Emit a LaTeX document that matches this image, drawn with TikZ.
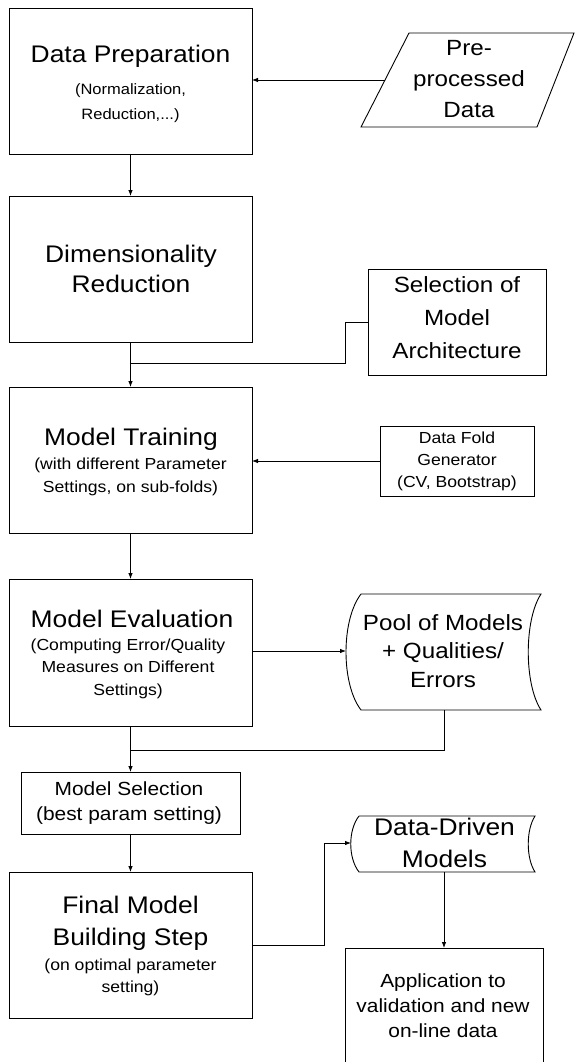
\documentclass[tikz,border=0pt]{standalone}
\usepackage{fontspec}
\setmainfont{Liberation Sans}[FakeStretch=1.1]
\usetikzlibrary{arrows.meta,calc}
\newcommand\txtlines[3]{{\fontsize{#1}{#2}\selectfont\begin{tabular}[t]{@{}c@{}}#3\end{tabular}}}
\tikzset{
  box/.style={draw, line width=0.9pt, rectangle, inner sep=0pt, outer sep=0pt},
  shapeline/.style={draw, line width=0.9pt},
  txt/.style={anchor=base, align=center, inner sep=0pt, outer sep=0pt},
  conn/.style={line width=0.8pt},
  arr/.style={conn, -{Latex[length=6pt,width=4.5pt]}},
}
\begin{document}
\begin{tikzpicture}[x=1pt,y=-1pt]
\useasboundingbox (0,0) rectangle (575,1062);
\fill[white] (0,0) rectangle (575,1062);
\clip (0,0) rectangle (575,1062);

% ---- left column boxes
\node[box, minimum width=243pt, minimum height=146pt] (prep)  at (130.5,81) {};
\node[box, minimum width=243pt, minimum height=146pt] (dim)   at (130.5,269) {};
\node[box, minimum width=243pt, minimum height=146pt] (train) at (130.5,460) {};
\node[box, minimum width=243pt, minimum height=147pt] (eval)  at (130.5,652.5) {};
\node[box, minimum width=219pt, minimum height=62pt]  (msel)  at (130.5,803) {};
\node[box, minimum width=243pt, minimum height=146pt] (final) at (130.5,945) {};

% ---- right column boxes
\node[box, minimum width=178pt, minimum height=106pt] (arch) at (457,322) {};
\node[box, minimum width=154pt, minimum height=70pt]  (fold) at (457,461) {};
\node[box, minimum width=198pt, minimum height=140pt] (app)  at (444,1018) {};

% ---- parallelogram (pre-processed data)
\coordinate (pTL) at (409,33);
\coordinate (pTR) at (574,33);
\coordinate (pBR) at (537,127);
\coordinate (pBL) at (361,127);
\draw[shapeline] (pTL) -- (pTR) -- (pBR) -- (pBL) -- cycle;
\coordinate (paraL) at ($(pBL)!0.5!(pTL)$);

% ---- stored data: pool of models
\draw[shapeline] (361,594) -- (541,594) .. controls (524,620) and (524,684) .. (541,710)
  -- (361,710) .. controls (341,684) and (341,620) .. (361,594);
\coordinate (poolL) at (346,651);
\coordinate (poolB) at (444,710);

% ---- stored data: data-driven models
\draw[shapeline] (359,816) -- (535,816) .. controls (526,830) and (526,858) .. (535,872)
  -- (359,872) .. controls (348,858) and (348,830) .. (359,816);
\coordinate (ddL) at (351,843);
\coordinate (ddB) at (444,872);

% ---- texts
\node[txt] (prepT) at (130.5,63) {\txtlines{24}{30}{Data Preparation}};
\node[txt] (prepS) at (130.5,95) {\txtlines{15}{25}{(Normalization,\\Reduction,...)}};
\node[txt] (dimT) at (131,262) {\txtlines{24}{30}{Dimensionality\\Reduction}};
\node[txt] (archT) at (457,292) {\txtlines{22}{33}{Selection of\\Model\\Architecture}};
\node[txt] (trainT) at (131,445) {\txtlines{24}{30}{Model Training}};
\node[txt] (trainS) at (130.5,469) {\txtlines{16}{23}{(with different Parameter\\Settings, on sub-folds)}};
\node[txt] (foldT) at (457,443) {\txtlines{16}{22}{Data Fold\\Generator\\(CV, Bootstrap)}};
\node[txt] (evalT) at (132,627) {\txtlines{24}{30}{Model Evaluation}};
\node[txt] (evalS) at (128,650) {\txtlines{16}{22.5}{(Computing Error/Quality\\Measures on Different\\Settings)}};
\node[txt] (pool) at (443,630) {\txtlines{22}{28.5}{Pool of Models\\+ Qualities/\\Errors}};
\node[txt] (mselT) at (129,795) {\txtlines{19}{25}{Model Selection\\(best param setting)}};
\node[txt] (finalT) at (130.5,913) {\txtlines{24}{32}{Final Model\\Building Step}};
\node[txt] (finalS) at (130.5,970) {\txtlines{16}{22}{(on optimal parameter\\setting)}};
\node[txt] (dd) at (444.5,835) {\txtlines{24}{32}{Data-Driven\\Models}};
\node[txt] (appT) at (443,987) {\txtlines{19}{25}{Application to\\validation and new\\on-line data}};
\node[txt] (para) at (469,56) {\txtlines{22}{31}{Pre-\\processed\\Data}};

% ---- connectors
\coordinate (j1) at (130.5,363);
\coordinate (j2) at (130.5,750);
\draw[arr] (paraL) -- (paraL -| prep.east);
\draw[arr] (prep.south) -- (dim.north);
\draw[conn] (arch.west) -- ++(-23,0) |- (j1);
\draw[arr] (dim.south) -- (train.north);
\draw[arr] (fold.west) -- (fold.west -| train.east);
\draw[arr] (train.south) -- (eval.north);
\draw[arr] (eval.east |- poolL) -- (poolL);
\draw[conn] (poolB) |- (j2);
\draw[arr] (eval.south) -- (msel.north);
\draw[arr] (msel.south) -- (final.north);
\draw[arr] (final.east) -- ++(72,0) |- (ddL);
\draw[arr] (ddB) -- (app.north);
\end{tikzpicture}
\end{document}
